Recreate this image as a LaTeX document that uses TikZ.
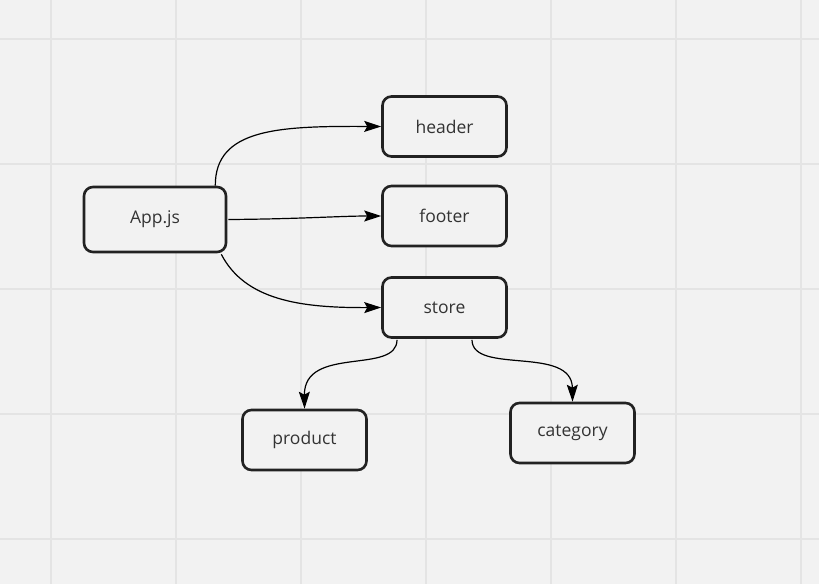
\documentclass[tikz,border=0pt]{standalone}
\usepackage{fontspec}
\setmainfont{Open Sans}
\usetikzlibrary{arrows.meta,calc}
\definecolor{bg}{HTML}{F2F2F2}
\definecolor{gridc}{HTML}{E4E4E4}
\definecolor{boxc}{HTML}{222222}
\definecolor{txt}{HTML}{333333}
\tikzset{
  box/.style={draw=boxc, line width=2.6pt, rounded corners=9pt, fill=bg,
    text=txt, font=\fontsize{17.5}{20}\selectfont, inner sep=0pt,
    minimum width=124pt, minimum height=60pt},
  conn/.style={draw=black, line width=1.2pt,
    -{Stealth[length=17pt,width=11pt,inset=3pt]}},
  gridline/.style={draw=gridc, line width=1.6pt}
}
\begin{document}
\begin{tikzpicture}[x=1pt,y=-1pt]
\fill[bg] (0,0) rectangle (819,584);
\useasboundingbox (0,0) rectangle (819,584);
\foreach \gx in {51,176,301,426,551,676,801} \draw[gridline] (\gx,0) -- (\gx,584);
\foreach \gy in {39,164,289,414,539} \draw[gridline] (0,\gy) -- (819,\gy);

\node[box, minimum width=142pt, minimum height=65pt] (app) at (155,219.5) {App.js};
\node[box] (header) at (444.5,126.5) {header};
\node[box] (footer) at (444.5,216) {footer};
\node[box] (store) at (444.5,307.5) {store};
\node[box] (product) at (304.5,440) {product};
\node[box] (category) at (572.5,433) {category};

\draw[conn] ($(app.north east)+(-12,0)$) .. controls (215,128) and (280,126) .. (header.west);
\draw[conn] ($(app.east)+(1,0)$) .. controls (300,219) and (340,216) .. (footer.west);
\draw[conn] ($(app.south east)+(-6,1)$) .. controls (245,300) and (300,308) .. (store.west);
\draw[conn] ($(store.south)+(-47.5,1)$) .. controls (397,375) and (304,345) .. (product.north);
\draw[conn] ($(store.south)+(27.5,1)$) .. controls (472,375) and (572,345) .. (category.north);
\end{tikzpicture}
\end{document}
